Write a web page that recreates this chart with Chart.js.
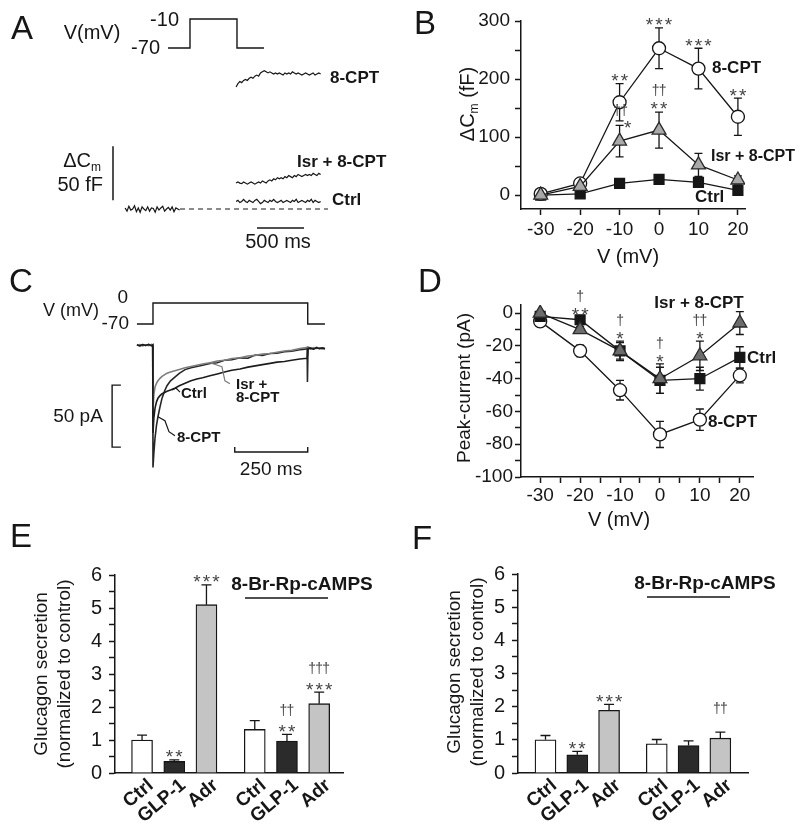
<!DOCTYPE html>
<html>
<head>
<meta charset="utf-8">
<script src="https://cdn.jsdelivr.net/npm/chart.js@4.4.1/dist/chart.umd.min.js"></script>
<style>
  html, body { margin: 0; padding: 0; background: #fff; }
  #wrap { position: relative; width: 800px; height: 827px; overflow: hidden; }
  canvas { position: absolute; }
</style>
</head>
<body>
<div id="wrap">
  <canvas id="cA" width="400" height="260" style="left:0;top:0;width:400px;height:260px"></canvas>
  <canvas id="cC" width="400" height="230" style="left:0;top:260px;width:400px;height:230px"></canvas>
  <canvas id="cB" width="400" height="275" style="left:400px;top:0;width:400px;height:275px"></canvas>
  <canvas id="cD" width="400" height="270" style="left:400px;top:265px;width:400px;height:270px"></canvas>
  <canvas id="cE" width="400" height="312" style="left:0;top:515px;width:400px;height:312px"></canvas>
  <canvas id="cF" width="400" height="312" style="left:400px;top:515px;width:400px;height:312px"></canvas>
</div>
<script>
/* global Chart */

// ---- panel A: capacitance traces (ms, fF), sampled every 20 ms ----
const aBaseStart = -690;
const aPostStart = 490;
const aDt = 20;
const aBase = [1, -2, 2.5, -1, 0, 3, -2.5, 1, -3, 2, 0, -1.5, 2, -2, 1, 0.5, -3, 2, -1, 1, 2.5, -2, 0, 1.5, -1, 2, -2.5, 1, 0, -1];
const aCpt = [113, 116, 118, 117, 119, 120, 119, 121, 122, 121, 123, 124, 123, 126, 127, 128, 127, 126, 127, 126,
  125, 126, 125, 126, 125, 124, 126, 125, 126, 125, 127, 126, 125, 126, 125, 124, 125, 126, 125, 124, 125, 126, 124, 125, 126, 125];
const aIsr = [24, 25, 24, 23.5, 25, 24, 23, 24, 25, 24, 23, 24, 25, 24, 26, 25, 24, 26, 27, 26,
  28, 27, 29, 28, 29, 28, 30, 29, 31, 30, 29, 31, 30, 32, 31, 30, 31, 32, 31, 32, 31, 33, 32, 31, 33, 32];
const aCtrl = [7, 8, 6, 7, 9, 7, 6, 8, 7, 6, 8, 9, 7, 5, 6, 8, 7, 6, 8, 7,
  9, 7, 6, 7, 8, 6, 7, 8, 7, 6, 8, 7, 9, 6, 7, 8, 7, 6, 8, 7, 9, 6, 8, 7, 6, 7];
const aDashT = [-106, 1468];
const aStimT = [-234, 0, 0, 500, 500, 787];
const aStimV = [-70, -70, -10, -10, -70, -70];

// ---- panel C: current traces (ms, pA) ----
const cTime = [-55, -45, -35, -25, -15, -5, -1, 0, 3, 7, 12, 17, 24, 31, 40, 48, 60, 75, 90, 110, 130, 150, 170, 195,
  220, 245, 270, 298, 325, 350, 375, 401, 425, 450, 475, 503, 520, 527, 528, 529, 531, 540, 550, 560, 570, 580, 589];
const cCpt = [1, 0.3, 1.2, 0.5, 1.1, 0.4, 1, -98, -86, -74, -64, -57, -49, -42, -36, -32, -28, -25, -22, -19, -17.5, -16.5, -15.5, -14,
  -13.5, -11.5, -11, -9.5, -9.8, -7.2, -7.5, -6, -5.8, -4.6, -4.2, -3, -2.5, -2, -2, -29, -1, -1.5, -2.2, -1, -2, -1.4, -2];
const cIsr = [0.6, 1.2, 0.2, 1, 0.4, 1.3, 0.8, -52, -39, -33, -30, -28, -26, -24.5, -23, -22, -21, -20, -19, -17.5, -16.5, -15.5, -14.5, -13.5,
  -12, -11.5, -10, -9.5, -8, -7.5, -6.5, -6, -5, -4, -3.5, -2, -1.5, -1, -1, -1, -1.5, -2.4, -1.2, -2, -1.5, -2.2, -1.6];
const cCtrl = [0.8, 0.2, 1.1, 0.5, 1.3, 0.3, 0.9, -70, -58, -50, -45, -42, -40, -38.5, -37.5, -36.5, -35.5, -34, -32, -30, -28, -26.5, -25.5, -24,
  -22.5, -21, -19.5, -18.5, -17, -16, -15, -14, -13, -12.5, -11.5, -10.5, -10, -10, -10, -10, -2, -1.8, -2.5, -1.4, -2.1, -1.7, -2.3];
const cStimT = [-55, 0, 0, 530, 530, 589];
const cStimV = [-70, -70, 0, 0, -70, -70];

// ---- panel B: ΔCm vs voltage ----
const bVolts = [-30, -20, -10, 0, 10, 20];
const bYTicks = [0, 50, 100, 150, 200, 250, 300];
const bCpt = [2, 20, 160, 253, 218, 135];
const bCptErr = [3, 4, 32, 35, 35, 32];
const bIsr = [0, 15, 93, 112, 52, 26];
const bIsrErr = [2, 4, 27, 31, 20, 7];
const bCtrl = [0, 2, 20, 27, 22, 8];
const bCtrlErr = [1, 2, 3, 3, 3, 3];
const bSigCpt = ['', '', '**', '***', '***', '**'];
const bSigIsr = ['', '', '*', '**', '', ''];
const bDagIsr = ['', '', '††', '††', '', ''];

// ---- panel D: peak current vs voltage ----
const dVolts = [-30, -20, -10, 0, 10, 20];
const dXTicks = [-30, -25, -20, -15, -10, -5, 0, 5, 10, 15, 20];
const dYTicks = [-100, -90, -80, -70, -60, -50, -40, -30, -20, -10, 0];
const dCpt = [-5, -23, -47, -74, -65, -38];
const dCptErr = [1.5, 3.5, 6, 8, 6.5, 4.5];
const dCtrl = [-2, -4, -23, -41, -40, -27];
const dCtrlErr = [1, 2, 5, 8, 7, 6.5];
const dIsr = [0, -10, -23, -40, -26, -6];
const dIsrErr = [1, 2, 6, 9, 9, 7];
const dSig = ['', '**', '*', '*', '*', ''];
const dDag = ['', '†', '†', '†', '††', ''];

// ---- panels E, F: glucagon secretion ----
const barCats = ['Ctrl', 'GLP-1', 'Adr', 'Ctrl', 'GLP-1', 'Adr'];
const barYTicks = [0, 0.5, 1, 1.5, 2, 2.5, 3, 3.5, 4, 4.5, 5, 5.5, 6];
const eVals = [1.0, 0.35, 5.1, 1.32, 0.97, 2.1];
const eErr = [0.15, 0.05, 0.6, 0.27, 0.2, 0.35];
const eSig = ['', '**', '***', '', '**', '***'];
const eDag = ['', '', '', '', '††', '†††'];
const fVals = [1.0, 0.55, 1.89, 0.88, 0.83, 1.05];
const fErr = [0.13, 0.1, 0.18, 0.13, 0.14, 0.18];
const fSig = ['', '**', '***', '', '', ''];
const fDag = ['', '', '', '', '', '††'];

const FONT = '"Liberation Sans", Arial, Helvetica, sans-serif';
const INK = '#161616';
Chart.defaults.font.family = FONT;
Chart.defaults.color = INK;
Chart.defaults.animation = false;
Chart.defaults.events = [];
Chart.defaults.plugins.legend.display = false;
Chart.defaults.plugins.tooltip.enabled = false;
Chart.defaults.elements.line.tension = 0;
Chart.defaults.elements.point.radius = 0;

const pts = (xs, ys) => xs.map((x, i) => ({ x, y: ys[i] }));
const sampled = (t0, dt, ys) => ys.map((y, i) => ({ x: t0 + i * dt, y }));
const DEG = Math.PI / 180;

function tx(ctx, s, x, y, o = {}) {
  ctx.save();
  ctx.font = `${o.bold ? 'bold ' : ''}${o.size || 18}px ${FONT}`;
  ctx.fillStyle = o.color || INK;
  ctx.textAlign = o.align || 'center';
  ctx.textBaseline = 'middle';
  ctx.translate(x, y);
  if (o.rot) ctx.rotate(o.rot);
  ctx.fillText(s, 0, 0);
  ctx.restore();
}

// significance marks, one glyph at a time so they spread like the figure
function sym(ctx, s, cx, cy) {
  if (!s) return;
  const dag = s[0] === '†';
  const size = dag ? 14 : 19, gap = dag ? 7 : 9.5;
  ctx.save();
  ctx.font = `${size}px ${FONT}`;
  ctx.fillStyle = '#444';
  ctx.textAlign = 'center';
  ctx.textBaseline = 'alphabetic';
  const base = cy + (dag ? 0.29 : 0.6) * size;
  [...s].forEach((c, i) => ctx.fillText(c, cx + (i - (s.length - 1) / 2) * gap, base));
  ctx.restore();
}

// "ΔCm" with a subscript m
function cmLabel(ctx, x, y, size, suffix, rot, align) {
  ctx.save();
  ctx.translate(x, y);
  if (rot) ctx.rotate(rot);
  const big = `${size}px ${FONT}`, small = `${Math.round(size * 0.6)}px ${FONT}`;
  ctx.font = big;
  const w1 = ctx.measureText('ΔC').width, w3 = ctx.measureText(suffix).width;
  ctx.font = small;
  const w2 = ctx.measureText('m').width;
  const w = w1 + w2 + w3;
  const x0 = align === 'right' ? -w : -w / 2;
  const base = 0.36 * size;
  ctx.fillStyle = INK;
  ctx.textAlign = 'left';
  ctx.textBaseline = 'alphabetic';
  ctx.font = big; ctx.fillText('ΔC', x0, base);
  ctx.font = small; ctx.fillText('m', x0 + w1, base + 0.18 * size);
  ctx.font = big; ctx.fillText(suffix, x0 + w1 + w2, base);
  ctx.restore();
}

function polyline(ctx, p, color, width) {
  ctx.save();
  ctx.strokeStyle = color || INK;
  ctx.lineWidth = width || 1.2;
  ctx.beginPath();
  p.forEach(([x, y], i) => (i ? ctx.lineTo(x, y) : ctx.moveTo(x, y)));
  ctx.stroke();
  ctx.restore();
}

// error bars: behind the markers for the line plots, on top of the bars
function drawErrs(chart, opts) {
  const { ctx } = chart;
  const cap = opts.cap || 4;
  chart.data.datasets.forEach((ds, di) => {
    if (!ds.errs) return;
    const meta = chart.getDatasetMeta(di);
    const ys = chart.scales[meta.yAxisID];
    ctx.save();
    ctx.strokeStyle = INK;
    ctx.lineWidth = 1.3;
    meta.data.forEach((el, i) => {
      const v = ds.data[i].y, e = ds.errs[i];
      const top = ys.getPixelForValue(v + e);
      const bot = opts.upOnly ? el.y : ys.getPixelForValue(v - e);
      ctx.beginPath();
      ctx.moveTo(el.x, bot); ctx.lineTo(el.x, top);
      ctx.moveTo(el.x - cap, top); ctx.lineTo(el.x + cap, top);
      if (!opts.upOnly) { ctx.moveTo(el.x - cap, bot); ctx.lineTo(el.x + cap, bot); }
      ctx.stroke();
    });
    ctx.restore();
  });
}
Chart.register({
  id: 'errorBars',
  beforeDatasetsDraw(chart, _a, opts) { if (opts && !opts.front) drawErrs(chart, opts); },
  afterDatasetsDraw(chart, _a, opts) { if (opts && opts.front) drawErrs(chart, opts); }
});

const hidden = (min, max) => ({ type: 'linear', display: false, min, max });
const traceDs = (data, color, extra = {}) => ({ data, borderColor: color || INK, borderWidth: 1.2, ...extra });
const axisLook = (tickSize) => ({
  grid: { drawOnChartArea: false, tickLength: 6, tickColor: INK, tickWidth: 1.5 },
  border: { color: INK, width: 1.5 },
  ticks: { font: { size: tickSize }, color: INK, autoSkip: false, maxRotation: 0 }
});

// ================= A =================
new Chart(document.getElementById('cA'), {
  type: 'line',
  data: {
    datasets: [
      traceDs(pts(aStimT, aStimV), INK, { yAxisID: 'yv', borderWidth: 1.4 }),
      traceDs(sampled(aBaseStart, aDt, aBase)),
      traceDs(sampled(aPostStart, aDt, aCpt)),
      traceDs(sampled(aPostStart, aDt, aIsr)),
      traceDs(sampled(aPostStart, aDt, aCtrl)),
      traceDs(pts(aDashT, [0, 0]), INK, { borderDash: [5, 4] }),
      // scale bars: 50 fF and 500 ms
      traceDs(pts([-819, -819], [8, 58]), INK, { borderWidth: 1.5 }),
      traceDs(pts([713, 1213], [-17.6, -17.6]), INK, { borderWidth: 1.5 })
    ]
  },
  options: {
    responsive: false,
    layout: { padding: 0 },
    scales: { x: hidden(-2021, 2234), y: hidden(-47.2, 193.5), yv: hidden(-508.6, 29.3) }
  },
  plugins: [{
    id: 'annA',
    afterDraw(chart) {
      const { ctx } = chart;
      tx(ctx, 'A', 22, 30, { size: 33 });
      tx(ctx, 'V(mV)', 92, 33, { size: 20 });
      tx(ctx, '-10', 179, 20, { size: 20, align: 'right' });
      tx(ctx, '-70', 160, 48, { size: 20, align: 'right' });
      tx(ctx, '8-CPT', 330, 78, { size: 17, bold: true, align: 'left' });
      tx(ctx, 'Isr + 8-CPT', 297, 162, { size: 17, bold: true, align: 'left' });
      tx(ctx, 'Ctrl', 332, 200, { size: 17, bold: true, align: 'left' });
      cmLabel(ctx, 101, 160, 20, '', 0, 'right');
      tx(ctx, '50 fF', 103, 185, { size: 20, align: 'right' });
      tx(ctx, '500 ms', 278, 242, { size: 20 });
    }
  }]
});

// ================= C =================
new Chart(document.getElementById('cC'), {
  type: 'line',
  data: {
    datasets: [
      traceDs(pts(cStimT, cStimV), INK, { yAxisID: 'yv', borderWidth: 1.4 }),
      traceDs(pts(cTime, cCtrl), '#1c1c1c', { borderWidth: 1.6 }),
      traceDs(pts(cTime, cIsr), '#7d7d7d', { borderWidth: 1.6 }),
      traceDs(pts(cTime, cCpt), '#262626', { borderWidth: 1.6 }),
      // scale bars: 50 pA bracket and 250 ms bar
      traceDs(pts([-110, -140, -140, -110], [-31.5, -31.5, -81.5, -81.5]), INK, { borderWidth: 1.4 }),
      traceDs(pts([280, 280, 530, 530], [-81.5, -85.5, -85.5, -81.5]), INK, { borderWidth: 1.4 })
    ]
  },
  options: {
    responsive: false,
    layout: { padding: 0 },
    scales: { x: hidden(-524, 846), y: hidden(-116.1, 69.4), yv: hidden(-623.3, 143.3) }
  },
  plugins: [{
    id: 'annC',
    afterDraw(chart) {
      const { ctx, scales: { x, y } } = chart;
      tx(ctx, 'C', 21, 23, { size: 33 });
      tx(ctx, 'V (mV)', 71, 51, { size: 18 });
      tx(ctx, '0', 128, 38, { size: 19, align: 'right' });
      tx(ctx, '-70', 129, 64, { size: 19, align: 'right' });
      tx(ctx, '50 pA', 78, 157, { size: 19 });
      tx(ctx, '250 ms', 271, 210, { size: 19 });
      // leader lines from the traces to their labels
      const p = (t, v) => [x.getPixelForValue(t), y.getPixelForValue(v)];
      const [cx, cy] = p(65, -35.5);
      polyline(ctx, [[cx, cy], [cx + 4, cy - 2], [cx + 8, cy + 2]]);
      tx(ctx, 'Ctrl', 181, 134, { size: 15, bold: true, align: 'left' });
      const [gx, gy] = p(195, -13.5);
      polyline(ctx, [[gx, gy], [gx + 12, gy + 4], [gx + 15, gy + 18], [gx + 20, gy + 21]], '#7d7d7d');
      tx(ctx, 'Isr +', 236, 125, { size: 15, bold: true, align: 'left' });
      tx(ctx, '8-CPT', 236, 138, { size: 15, bold: true, align: 'left' });
      const [kx, ky] = p(17, -57);
      polyline(ctx, [[kx, ky], [kx + 7, ky + 4], [kx + 11, ky + 15], [kx + 17, ky + 19]]);
      tx(ctx, '8-CPT', 177, 178, { size: 15, bold: true, align: 'left' });
    }
  }]
});

// ================= B =================
new Chart(document.getElementById('cB'), {
  type: 'line',
  data: {
    datasets: [
      { data: pts(bVolts, bIsr), errs: bIsrErr, pointStyle: 'triangle', pointRadius: 8, pointBackgroundColor: '#a9a9a9', pointBorderColor: '#2a2a2a' },
      { data: pts(bVolts, bCpt), errs: bCptErr, pointStyle: 'circle', pointRadius: 6.5, pointBackgroundColor: '#fff', pointBorderColor: INK },
      { data: pts(bVolts, bCtrl), errs: bCtrlErr, pointStyle: 'rect', pointRadius: 7, pointBackgroundColor: INK, pointBorderColor: INK }
    ].map(d => ({ borderColor: INK, borderWidth: 1.3, pointBorderWidth: 1.3, ...d }))
  },
  options: {
    responsive: false,
    layout: { padding: { top: 21, right: 55, left: 0, bottom: 0 } },
    scales: {
      x: {
        type: 'linear', min: -35, max: 21.8, ...axisLook(19),
        afterBuildTicks: s => { s.ticks = bVolts.map(value => ({ value })); },
        afterFit: s => { s.height = 66; }
      },
      y: {
        type: 'linear', min: -24, max: 300, ...axisLook(19),
        afterBuildTicks: s => { s.ticks = bYTicks.map(value => ({ value })); },
        afterFit: s => { s.width = 121; }
      }
    },
    plugins: { errorBars: { cap: 4 } }
  },
  plugins: [{
    id: 'annB',
    beforeInit(chart) {
      chart.options.scales.x.ticks.padding = 3;
      chart.options.scales.y.ticks.padding = 5;
      chart.options.scales.y.ticks.callback = v => (v % 100 === 0 ? v : '');
    },
    afterDraw(chart) {
      const { ctx, scales: { x, y } } = chart;
      tx(ctx, 'B', 25, 25, { size: 33 });
      cmLabel(ctx, 67, 104, 20, ' (fF)', -90 * DEG);
      tx(ctx, 'V (mV)', 228, 257, { size: 20 });
      tx(ctx, '8-CPT', 312, 68, { size: 17, bold: true, align: 'left' });
      tx(ctx, 'Isr + 8-CPT', 311, 157, { size: 16, bold: true, align: 'left' });
      tx(ctx, 'Ctrl', 295, 197, { size: 17, bold: true, align: 'left' });
      bVolts.forEach((v, i) => {
        const px = x.getPixelForValue(v);
        sym(ctx, bSigCpt[i], px, y.getPixelForValue(bCpt[i] + bCptErr[i]) - 8);
        const isrTop = y.getPixelForValue(bIsr[i] + bIsrErr[i]);
        if (v === -10) {
          // squeezed under the 8-CPT point, set off to the right
          sym(ctx, bSigIsr[i], px + 8, isrTop - 3);
          sym(ctx, bDagIsr[i], px + 1, isrTop - 15);
        } else {
          sym(ctx, bSigIsr[i], px, isrTop - 8);
          sym(ctx, bDagIsr[i], px, isrTop - 21);
        }
      });
    }
  }]
});

// ================= D =================
new Chart(document.getElementById('cD'), {
  type: 'line',
  data: {
    datasets: [
      { data: pts(dVolts, dIsr), errs: dIsrErr, pointStyle: 'triangle', pointRadius: 8, pointBackgroundColor: '#6c6c6c', pointBorderColor: '#2a2a2a' },
      { data: pts(dVolts, dCtrl), errs: dCtrlErr, pointStyle: 'rect', pointRadius: 7, pointBackgroundColor: INK, pointBorderColor: INK },
      { data: pts(dVolts, dCpt), errs: dCptErr, pointStyle: 'circle', pointRadius: 6.5, pointBackgroundColor: '#fff', pointBorderColor: INK }
    ].map(d => ({ borderColor: INK, borderWidth: 1.3, pointBorderWidth: 1.3, ...d }))
  },
  options: {
    responsive: false,
    layout: { padding: { top: 40, right: 47, left: 0, bottom: 0 } },
    scales: {
      x: {
        type: 'linear', min: -34.8, max: 23.3, ...axisLook(19),
        afterBuildTicks: s => { s.ticks = dXTicks.map(value => ({ value })); },
        afterFit: s => { s.height = 58; }
      },
      y: {
        type: 'linear', min: -100, max: 5, ...axisLook(19),
        afterBuildTicks: s => { s.ticks = dYTicks.map(value => ({ value })); },
        afterFit: s => { s.width = 121; }
      }
    },
    plugins: { errorBars: { cap: 4 } }
  },
  plugins: [{
    id: 'annD',
    beforeInit(chart) {
      chart.options.scales.x.ticks.padding = 1;
      chart.options.scales.x.ticks.callback = v => (v % 10 === 0 ? v : '');
      chart.options.scales.y.ticks.padding = 2;
      chart.options.scales.y.ticks.callback = v => (v % 20 === 0 ? v : '');
    },
    afterDraw(chart) {
      const { ctx, scales: { x, y } } = chart;
      tx(ctx, 'D', 30, 18, { size: 33 });
      tx(ctx, 'Peak-current (pA)', 65, 123, { size: 19, rot: -90 * DEG });
      tx(ctx, 'V (mV)', 219, 255, { size: 20 });
      tx(ctx, 'Isr + 8-CPT', 299, 38, { size: 17, bold: true });
      tx(ctx, 'Ctrl', 347, 93, { size: 17, bold: true, align: 'left' });
      tx(ctx, '8-CPT', 308, 157, { size: 17, bold: true, align: 'left' });
      dVolts.forEach((v, i) => {
        const px = x.getPixelForValue(v);
        const top = Math.min(
          y.getPixelForValue(dCpt[i] + dCptErr[i]),
          y.getPixelForValue(dCtrl[i] + dCtrlErr[i]),
          y.getPixelForValue(dIsr[i] + dIsrErr[i]));
        sym(ctx, dSig[i], px, top - 7);
        sym(ctx, dDag[i], px, top - 20);
      });
    }
  }]
});

// ================= E, F =================
const barFill = { 'Ctrl': '#ffffff', 'GLP-1': '#2b2b2b', 'Adr': '#c4c4c4' };
const barSlots = barCats.map((_, i) => i + (i >= 3 ? 0.5 : 0));

function barPanel(id, vals, errs, sig, dag, o) {
  return new Chart(document.getElementById(id), {
    type: 'bar',
    data: {
      datasets: [{
        data: pts(barSlots, vals), errs,
        backgroundColor: barCats.map(c => barFill[c]),
        borderColor: INK, borderWidth: 1.3, barThickness: 21
      }]
    },
    options: {
      responsive: false,
      layout: { padding: { top: o.top, right: o.right, left: 0, bottom: 0 } },
      scales: {
        x: {
          type: 'linear', offset: false, min: o.xMin, max: o.xMax,
          ticks: { display: false }, grid: { display: false },
          border: { color: INK, width: 1.5 },
          afterFit: s => { s.height = 54; }
        },
        y: {
          type: 'linear', min: 0, max: 6, ...axisLook(20),
          afterBuildTicks: s => { s.ticks = barYTicks.map(value => ({ value })); },
          afterFit: s => { s.width = o.axisW; }
        }
      },
      plugins: { errorBars: { front: true, upOnly: true, cap: 5 } }
    },
    plugins: [{
      id: 'ann' + id,
      beforeInit(chart) {
        chart.options.scales.y.ticks.padding = 7;
        chart.options.scales.y.ticks.callback = v => (Number.isInteger(v) ? v : '');
      },
      afterDraw(chart) {
        const { ctx, chartArea, scales: { x, y } } = chart;
        tx(ctx, o.letter, o.letterX, o.letterY, { size: 33 });
        tx(ctx, 'Glucagon secretion', o.titleX, o.titleY, { size: 19, rot: -90 * DEG });
        tx(ctx, '(normalized to control)', o.titleX + 23, o.titleY, { size: 19, rot: -90 * DEG });
        tx(ctx, '8-Br-Rp-cAMPS', o.headX, chartArea.top + 10, { size: 19, bold: true });
        polyline(ctx, [[o.lineX0, chartArea.top + 23], [o.lineX1, chartArea.top + 23]], INK, 1.4);
        barCats.forEach((c, i) => {
          const px = x.getPixelForValue(barSlots[i]);
          tx(ctx, c, px + 9, chartArea.bottom + 10, { size: 19, bold: true, align: 'right', rot: -40 * DEG });
          const top = y.getPixelForValue(vals[i] + errs[i]);
          sym(ctx, sig[i], px, top - 8);
          sym(ctx, dag[i], px, top - 23);
        });
      }
    }]
  });
}

barPanel('cE', eVals, eErr, eSig, eDag, {
  top: 60, right: 57, axisW: 115, xMin: -0.84, xMax: 6.24,
  letter: 'E', letterX: 21, letterY: 23, titleX: 42, titleY: 159,
  headX: 302, lineX0: 245, lineX1: 328
});
barPanel('cF', fVals, fErr, fSig, fDag, {
  top: 59, right: 52, axisW: 118, xMin: -0.865, xMax: 6.37,
  letter: 'F', letterX: 22, letterY: 25, titleX: 55, titleY: 157,
  headX: 305, lineX0: 247, lineX1: 330
});
</script>
</body>
</html>
